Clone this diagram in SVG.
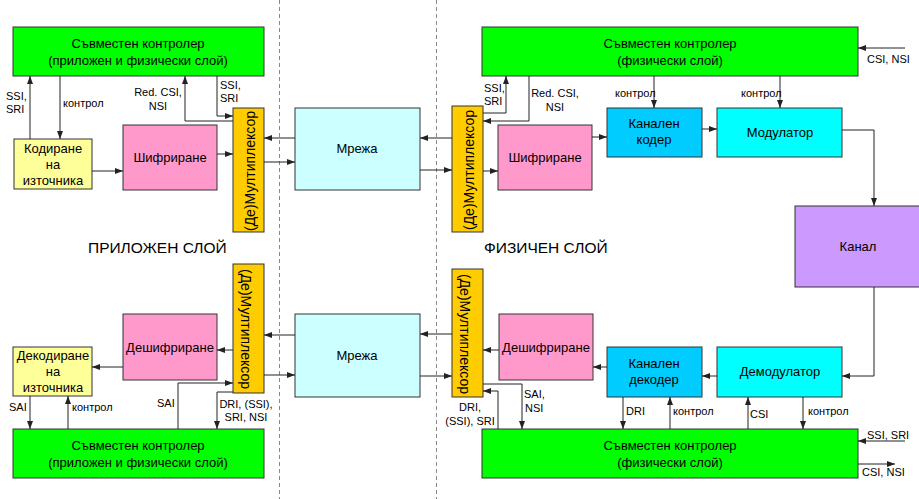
<svg xmlns="http://www.w3.org/2000/svg" width="919" height="499" viewBox="0 0 919 499">
<defs>
<marker id="ah" markerWidth="8" markerHeight="6" refX="8" refY="3" orient="auto" markerUnits="userSpaceOnUse"><path d="M0,0 L8,3 L0,6 z" fill="#222"/></marker>
<style>
.b{stroke:#333;stroke-width:1}
.ctl{fill:#00ff00}
.enc{fill:#ffff99}
.cry{fill:#ff99cc}
.mux{fill:#ffcc00}
.net{fill:#ccffff}
.cc{fill:#00ccff}
.mod{fill:#00ffff}
.ch{fill:#cc99ff}
text{font-family:"Liberation Sans",Arial,sans-serif;fill:#000}
.t{font-size:13px;text-anchor:middle}
.mt{font-size:14px;text-anchor:middle}
.l{font-size:11px}
.m{text-anchor:middle}
.h{font-size:15.5px}
.c path{fill:none;stroke:#222;stroke-width:1;marker-end:url(#ah)}
.d{stroke:#888;stroke-width:1;stroke-dasharray:4,3}
</style>
</defs>
<rect width="919" height="499" fill="#fff"/>
<line class="d" x1="279.5" y1="0" x2="279.5" y2="499"/>
<line class="d" x1="436.5" y1="0" x2="436.5" y2="499"/>

<g id="ctl-tl"><rect class="b ctl" x="13" y="27" width="251" height="49"/><text class="t" x="138" y="48">Съвместен контролер</text><text class="t" x="138" y="65">(приложен и физически слой)</text></g>
<g id="enc"><rect class="b enc" x="14" y="139" width="78" height="50"/><text class="t" x="53" y="153">Кодиране</text><text class="t" x="53" y="169">на</text><text class="t" x="53" y="185">източника</text></g>
<g id="cry-tl"><rect class="b cry" x="123" y="125" width="94" height="65"/><text class="t" x="170" y="162">Шифриране</text></g>
<g id="mux-tl"><rect class="b mux" x="233" y="108" width="31" height="124"/><text class="mt" transform="translate(255,171) rotate(-90)">(Де)Мултиплексор</text></g>
<g id="net-t"><rect class="b net" x="295" y="108" width="125" height="82"/><text class="t" x="357" y="153">Мрежа</text></g>
<g id="mux-tr"><rect class="b mux" x="452" y="106" width="31" height="126"/><text class="mt" transform="translate(474,170) rotate(-90)">(Де)Мултиплексор</text></g>
<g id="cry-tr"><rect class="b cry" x="498" y="125" width="94" height="65"/><text class="t" x="545" y="162">Шифриране</text></g>
<g id="ctl-tr"><rect class="b ctl" x="482" y="27" width="376" height="49"/><text class="t" x="670" y="48">Съвместен контролер</text><text class="t" x="670" y="65">(физически слой)</text></g>
<g id="cc"><rect class="b cc" x="607" y="108" width="95" height="49"/><text class="t" x="654" y="128">Канален</text><text class="t" x="654" y="144">кодер</text></g>
<g id="mod"><rect class="b mod" x="717" y="108" width="125" height="49"/><text class="t" x="780" y="137">Модулатор</text></g>
<g id="ch"><rect class="b ch" x="795" y="206" width="130" height="81"/><text class="t" x="858" y="251">Канал</text></g>

<g id="mux-bl"><rect class="b mux" x="233" y="264" width="31" height="129"/><text class="mt" transform="translate(241,329) rotate(90)">(Де)Мултиплексор</text></g>
<g id="dec-l"><rect class="b cry" x="123" y="314" width="94" height="66"/><text class="t" x="170" y="352">Дешифриране</text></g>
<g id="sdec"><rect class="b enc" x="13" y="347" width="79" height="49"/><text class="t" x="53" y="360">Декодиране</text><text class="t" x="53" y="376">на</text><text class="t" x="53" y="392">източника</text></g>
<g id="ctl-bl"><rect class="b ctl" x="13" y="429" width="251" height="49"/><text class="t" x="138" y="450">Съвместен контролер</text><text class="t" x="138" y="467">(приложен и физически слой)</text></g>
<g id="net-b"><rect class="b net" x="295" y="314" width="125" height="83"/><text class="t" x="357" y="360">Мрежа</text></g>
<g id="mux-br"><rect class="b mux" x="452" y="269" width="31" height="128"/><text class="mt" transform="translate(460,334) rotate(90)">(Де)Мултиплексор</text></g>
<g id="dec-r"><rect class="b cry" x="499" y="314" width="94" height="66"/><text class="t" x="546" y="352">Дешифриране</text></g>
<g id="cd"><rect class="b cc" x="607" y="347" width="95" height="50"/><text class="t" x="654" y="368">Канален</text><text class="t" x="654" y="384">декодер</text></g>
<g id="demod"><rect class="b mod" x="717" y="347" width="125" height="50"/><text class="t" x="780" y="376">Демодулатор</text></g>
<g id="ctl-br"><rect class="b ctl" x="482" y="429" width="376" height="49"/><text class="t" x="670" y="450">Съвместен контролер</text><text class="t" x="670" y="467">(физически слой)</text></g>

<text class="h" x="88" y="253">ПРИЛОЖЕН СЛОЙ</text>
<text class="h" x="484" y="253">ФИЗИЧЕН СЛОЙ</text>

<g id="connectors" class="c">
<path d="M30,139 V76"/>
<path d="M60,76 V139"/>
<path d="M92,171 H123"/>
<path d="M217,154 H233"/>
<path d="M233,121 H185 V76"/>
<path d="M217,76 V116 H233"/>
<path d="M295,138 H264"/>
<path d="M264,162 H295"/>
<path d="M452,138 H420"/>
<path d="M420,170 H452"/>
<path d="M483,171 H498"/>
<path d="M483,113 H506 V76"/>
<path d="M529,76 V121 H483"/>
<path d="M592,137 H607"/>
<path d="M654,76 V108"/>
<path d="M780,76 V108"/>
<path d="M702,129 H717"/>
<path d="M842,130 H874 V206"/>
<path d="M905,48 H858"/>
<path d="M874,287 V376 H842"/>
<path d="M717,376 H702"/>
<path d="M607,367 H593"/>
<path d="M499,350 H483"/>
<path d="M452,334 H420"/>
<path d="M420,376 H452"/>
<path d="M483,384 H522 V429"/>
<path d="M498,429 V391 H483"/>
<path d="M623,397 V429"/>
<path d="M670,429 V397"/>
<path d="M748,429 V397"/>
<path d="M803,397 V429"/>
<path d="M905,441 H858"/>
<path d="M858,464 H895"/>
<path d="M295,335 H264"/>
<path d="M264,375 H295"/>
<path d="M233,350 H217"/>
<path d="M123,367 H92"/>
<path d="M178,429 V383 H233"/>
<path d="M233,392 H217 V429"/>
<path d="M30,396 V429"/>
<path d="M68,429 V396"/>
</g>

<g id="labels" class="l">
<text x="6" y="100">SSI,</text><text x="6" y="113">SRI</text>
<text x="63" y="107">контрол</text>
<text class="m" x="158" y="96">Red. CSI,</text><text class="m" x="158" y="110">NSI</text>
<text x="220" y="89">SSI,</text><text x="220" y="102">SRI</text>
<text x="484" y="92">SSI,</text><text x="484" y="105">SRI</text>
<text class="m" x="555" y="97">Red. CSI,</text><text class="m" x="555" y="111">NSI</text>
<text x="615" y="97">контрол</text>
<text x="741" y="97">контрол</text>
<text x="867" y="63">CSI, NSI</text>
<text x="9" y="411">SAI</text>
<text x="72" y="411">контрол</text>
<text x="157" y="407">SAI</text>
<text class="m" x="246" y="408">DRI, (SSI),</text><text class="m" x="246" y="421">SRI, NSI</text>
<text class="m" x="470" y="411">DRI,</text><text class="m" x="470" y="425">(SSI), SRI</text>
<text x="524" y="398">SAI,</text><text x="525" y="412">NSI</text>
<text x="626" y="415">DRI</text>
<text x="673" y="415">контрол</text>
<text x="750" y="418">CSI</text>
<text x="808" y="415">контрол</text>
<text x="867" y="439">SSI, SRI</text>
<text x="862" y="476">CSI, NSI</text>
</g>
</svg>
